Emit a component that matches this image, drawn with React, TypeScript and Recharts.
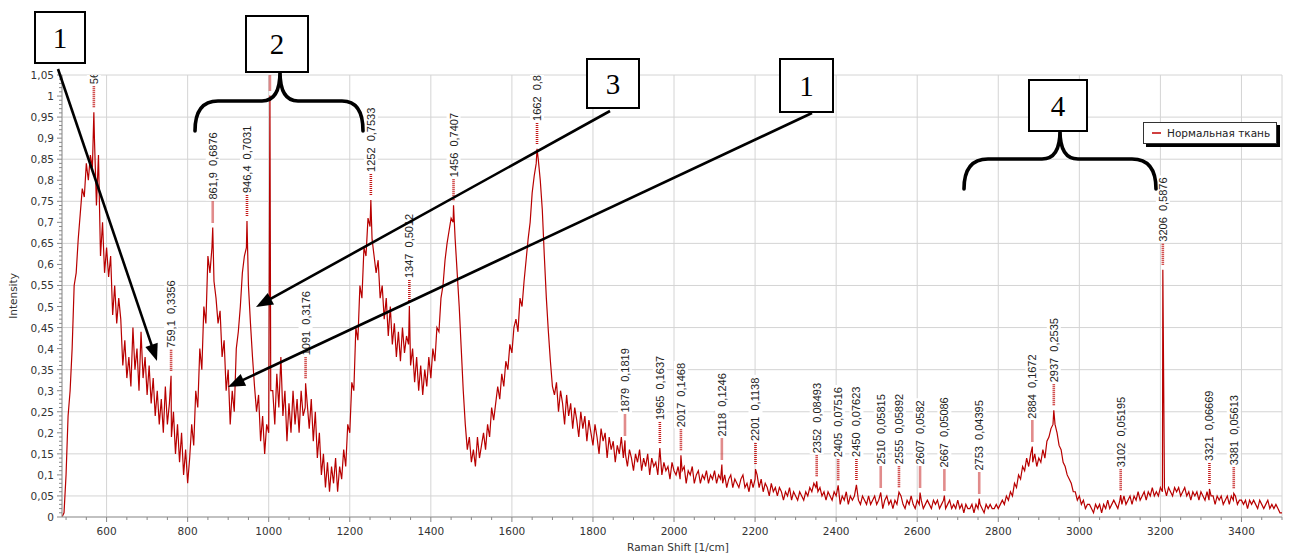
import React from 'react';
import { ComposedChart, Line, Scatter, XAxis, YAxis, CartesianGrid } from 'recharts';

// Raman spectrum, sampled every 5 1/cm from 490 to 3500
const SHIFT_START = 490;
const SHIFT_STEP = 5;
const intensity: number[] = [
  0.00, 0.01, 0.10, 0.24, 0.30, 0.40, 0.55, 0.58, 0.66, 0.72, 0.78, 0.76, 0.84, 0.80, 0.86, 0.83, 0.90, 0.74, 0.86, 0.62,
  0.70, 0.58, 0.64, 0.57, 0.62, 0.48, 0.55, 0.46, 0.52, 0.47, 0.36, 0.42, 0.33, 0.38, 0.31, 0.45, 0.35, 0.40, 0.30, 0.44,
  0.33, 0.38, 0.29, 0.36, 0.27, 0.33, 0.24, 0.30, 0.22, 0.28, 0.20, 0.31, 0.22, 0.27, 0.19, 0.25, 0.15, 0.22, 0.13, 0.20,
  0.10, 0.16, 0.08, 0.14, 0.22, 0.17, 0.30, 0.26, 0.40, 0.35, 0.50, 0.46, 0.62, 0.58, 0.64, 0.56, 0.52, 0.46, 0.49, 0.38,
  0.42, 0.30, 0.35, 0.22, 0.30, 0.25, 0.40, 0.44, 0.50, 0.58, 0.62, 0.64, 0.55, 0.46, 0.38, 0.31, 0.25, 0.29, 0.18, 0.24,
  0.15, 0.22, 0.20, 0.30, 0.30, 0.22, 0.34, 0.26, 0.38, 0.24, 0.30, 0.18, 0.27, 0.20, 0.30, 0.22, 0.28, 0.20, 0.30, 0.24,
  0.26, 0.27, 0.21, 0.28, 0.18, 0.25, 0.14, 0.20, 0.10, 0.15, 0.07, 0.13, 0.06, 0.12, 0.08, 0.14, 0.06, 0.12, 0.09, 0.16,
  0.12, 0.22, 0.20, 0.32, 0.30, 0.45, 0.42, 0.55, 0.52, 0.64, 0.62, 0.71, 0.69, 0.66, 0.62, 0.58, 0.61, 0.52, 0.55, 0.47,
  0.52, 0.43, 0.50, 0.41, 0.46, 0.38, 0.44, 0.37, 0.45, 0.39, 0.43, 0.41, 0.36, 0.40, 0.32, 0.38, 0.30, 0.36, 0.29, 0.35,
  0.31, 0.38, 0.33, 0.40, 0.37, 0.45, 0.44, 0.52, 0.55, 0.61, 0.65, 0.68, 0.71, 0.70, 0.66, 0.58, 0.50, 0.40, 0.30, 0.22,
  0.16, 0.19, 0.13, 0.16, 0.12, 0.19, 0.14, 0.17, 0.20, 0.16, 0.22, 0.19, 0.26, 0.23, 0.27, 0.31, 0.28, 0.34, 0.31, 0.37,
  0.35, 0.41, 0.39, 0.45, 0.47, 0.44, 0.52, 0.50, 0.56, 0.61, 0.66, 0.70, 0.77, 0.81, 0.84, 0.85, 0.80, 0.73, 0.62, 0.52,
  0.44, 0.37, 0.31, 0.29, 0.32, 0.25, 0.30, 0.27, 0.22, 0.29, 0.24, 0.27, 0.21, 0.26, 0.23, 0.19, 0.25, 0.21, 0.24, 0.18,
  0.23, 0.20, 0.17, 0.22, 0.19, 0.15, 0.21, 0.18, 0.20, 0.14, 0.19, 0.16, 0.18, 0.13, 0.17, 0.15, 0.19, 0.14, 0.15, 0.12,
  0.16, 0.14, 0.11, 0.15, 0.13, 0.16, 0.11, 0.14, 0.12, 0.15, 0.10, 0.14, 0.12, 0.13, 0.10, 0.12, 0.10, 0.13, 0.11, 0.12,
  0.09, 0.13, 0.11, 0.10, 0.12, 0.09, 0.11, 0.12, 0.08, 0.11, 0.10, 0.12, 0.08, 0.10, 0.11, 0.08, 0.10, 0.09, 0.11, 0.08,
  0.10, 0.09, 0.11, 0.08, 0.10, 0.09, 0.08, 0.10, 0.07, 0.09, 0.10, 0.07, 0.09, 0.08, 0.07, 0.09, 0.10, 0.07, 0.08, 0.06,
  0.09, 0.07, 0.09, 0.10, 0.07, 0.09, 0.06, 0.08, 0.07, 0.05, 0.08, 0.06, 0.07, 0.05, 0.07, 0.06, 0.04, 0.06, 0.05, 0.07,
  0.04, 0.06, 0.05, 0.04, 0.06, 0.05, 0.04, 0.06, 0.05, 0.07, 0.06, 0.08, 0.07, 0.06, 0.07, 0.05, 0.06, 0.04, 0.06, 0.05,
  0.04, 0.06, 0.05, 0.05, 0.03, 0.05, 0.04, 0.06, 0.03, 0.05, 0.04, 0.05, 0.06, 0.04, 0.03, 0.05, 0.04, 0.03, 0.05, 0.03,
  0.04, 0.05, 0.03, 0.04, 0.04, 0.02, 0.04, 0.05, 0.03, 0.04, 0.02, 0.04, 0.03, 0.04, 0.05, 0.03, 0.02, 0.04, 0.03, 0.05,
  0.03, 0.02, 0.04, 0.03, 0.04, 0.02, 0.03, 0.04, 0.03, 0.02, 0.04, 0.03, 0.04, 0.02, 0.03, 0.04, 0.02, 0.03, 0.04, 0.02,
  0.03, 0.02, 0.04, 0.02, 0.03, 0.01, 0.03, 0.02, 0.02, 0.03, 0.01, 0.03, 0.02, 0.03, 0.02, 0.01, 0.03, 0.02, 0.03, 0.02,
  0.02, 0.03, 0.02, 0.03, 0.04, 0.03, 0.05, 0.04, 0.06, 0.05, 0.08, 0.07, 0.10, 0.09, 0.12, 0.11, 0.14, 0.12, 0.15, 0.13,
  0.15, 0.12, 0.14, 0.13, 0.16, 0.14, 0.18, 0.19, 0.21, 0.22, 0.22, 0.20, 0.17, 0.16, 0.13, 0.12, 0.10, 0.09, 0.08, 0.06,
  0.06, 0.04, 0.05, 0.03, 0.04, 0.02, 0.03, 0.03, 0.02, 0.01, 0.03, 0.02, 0.03, 0.01, 0.03, 0.02, 0.04, 0.02, 0.03, 0.04,
  0.03, 0.02, 0.04, 0.03, 0.05, 0.03, 0.04, 0.05, 0.03, 0.05, 0.04, 0.06, 0.04, 0.05, 0.06, 0.04, 0.06, 0.05, 0.07, 0.05,
  0.06, 0.05, 0.07, 0.06, 0.07, 0.05, 0.07, 0.06, 0.05, 0.07, 0.06, 0.07, 0.05, 0.06, 0.07, 0.05, 0.06, 0.04, 0.06, 0.05,
  0.06, 0.04, 0.06, 0.05, 0.04, 0.06, 0.04, 0.05, 0.05, 0.03, 0.05, 0.04, 0.05, 0.03, 0.04, 0.05, 0.03, 0.05, 0.04, 0.05,
  0.03, 0.04, 0.04, 0.03, 0.04, 0.02, 0.04, 0.03, 0.04, 0.03, 0.02, 0.04, 0.03, 0.02, 0.03, 0.04, 0.02, 0.03, 0.02, 0.03,
  0.02, 0.01, 0.01,
];

// Marked peaks
const peakShifts = [568.6, 759.1, 861.9, 946.4, 1003, 1091, 1252, 1347, 1456, 1662, 1879, 1965, 2017, 2118, 2201, 2352, 2405, 2450, 2510, 2555, 2607, 2667, 2753, 2884, 2937, 3102, 3206, 3321, 3381];
const peakValues = [0.9617, 0.3356, 0.6876, 0.7031, 1.0012, 0.3176, 0.7533, 0.5012, 0.7407, 0.8745, 0.1819, 0.1637, 0.1468, 0.1246, 0.1138, 0.08493, 0.07516, 0.07623, 0.05815, 0.05892, 0.0582, 0.05086, 0.04395, 0.1672, 0.2535, 0.05195, 0.5876, 0.06669, 0.05613];
const peakLabels = ['568,6  0,9617', '759,1  0,3356', '861,9  0,6876', '946,4  0,7031', '1003  1,0012', '1091  0,3176', '1252  0,7533', '1347  0,5012', '1456  0,7407', '1662  0,8745', '1879  0,1819', '1965  0,1637', '2017  0,1468', '2118  0,1246', '2201  0,1138', '2352  0,08493', '2405  0,07516', '2450  0,07623', '2510  0,05815', '2555  0,05892', '2607  0,0582', '2667  0,05086', '2753  0,04395', '2884  0,1672', '2937  0,2535', '3102  0,05195', '3206  0,5876', '3321  0,06669', '3381  0,05613'];

const xMajorTicks = [600, 800, 1000, 1200, 1400, 1600, 1800, 2000, 2200, 2400, 2600, 2800, 3000, 3200, 3400];
const yMajorTicks = [0, 0.05, 0.1, 0.15, 0.2, 0.25, 0.3, 0.35, 0.4, 0.45, 0.5, 0.55, 0.6, 0.65, 0.7, 0.75, 0.8, 0.85, 0.9, 0.95, 1, 1.05];
const yTickLabels = ['0', '0,05', '0,1', '0,15', '0,2', '0,25', '0,3', '0,35', '0,4', '0,45', '0,5', '0,55', '0,6', '0,65', '0,7', '0,75', '0,8', '0,85', '0,9', '0,95', '1', '1,05'];

const SERIES_NAME = 'Нормальная ткань';
const X_TITLE = 'Raman Shift [1/cm]';
const Y_TITLE = 'Intensity';

// layout
const W = 1293;
const H = 554;
const PLOT_LEFT = 62;
const PLOT_TOP = 75;
const PLOT_RIGHT = 1282;
const PLOT_BOTTOM = 517;
const RED = '#b80000';
const AXIS_FONT = '"DejaVu Sans", Verdana, sans-serif';

const spectrum: { x: number; y: number }[] = [];
intensity.forEach((v, i) => {
  const x = SHIFT_START + i * SHIFT_STEP;
  if (!peakShifts.some((p) => Math.abs(p - x) < 0.6)) spectrum.push({ x, y: v });
});
peakShifts.forEach((p, i) => spectrum.push({ x: p, y: peakValues[i] }));
spectrum.sort((a, b) => a.x - b.x);

const peakData = peakShifts.map((p, i) => ({ x: p, y: peakValues[i], label: peakLabels[i] }));

const xMinorTicks: number[] = [];
for (let v = 500; v <= 3500; v += 50) xMinorTicks.push(v);
const yMinorTicks: number[] = [];
for (let k = 0; k <= 105; k++) yMinorTicks.push(k / 100);

const charW = (c: string) => (c === ',' || c === ' ' ? 3.06 : 6.12);
const labelLen = (s: string) => s.split('').reduce((a, c) => a + charW(c), 0);

const PeakMark = (props: any) => {
  const { cx, cy, payload } = props;
  if (cx == null || cy == null) return <g />;
  const label: string = payload.label;
  const len = labelLen(label);
  const id = `pclip-${String(payload.x).replace('.', '_')}`;
  const ty = cy - 28;
  return (
    <g>
      <defs>
        <clipPath id={id}>
          <rect x={PLOT_LEFT} y={PLOT_TOP} width={PLOT_RIGHT - PLOT_LEFT} height={PLOT_BOTTOM - PLOT_TOP} />
        </clipPath>
      </defs>
      <g clipPath={`url(#${id})`}>
        <line x1={cx} x2={cx} y1={cy - 5} y2={cy - 26} stroke="#c41818" strokeWidth={2.6} strokeDasharray="1 1" />
        <rect x={cx - 7} y={ty - len - 2} width={14} height={len + 3} fill="#fff" />
        <text
          x={cx}
          y={ty}
          transform={`rotate(-90 ${cx} ${ty})`}
          dominantBaseline="central"
          textAnchor="start"
          fontFamily='"Liberation Sans", Arial, sans-serif'
          fontSize={11}
          fill="#222"
          style={{ whiteSpace: 'pre' }}
        >
          {label}
        </text>
      </g>
    </g>
  );
};

const XTick = (props: any) => {
  const { x, y, payload } = props;
  const v = payload.value;
  const major = xMajorTicks.includes(v);
  return (
    <g>
      <line x1={x} x2={x} y1={y} y2={y + (major ? 5 : 3)} stroke="#888" />
      {major && (
        <text x={x} y={y + 18} textAnchor="middle" fontFamily={AXIS_FONT} fontSize={10.5} fill="#333">
          {v}
        </text>
      )}
    </g>
  );
};

const YTick = (props: any) => {
  const { x, y, payload } = props;
  const v = payload.value;
  const k = Math.round(v * 100);
  const major = k % 5 === 0;
  const idx = yMajorTicks.findIndex((t) => Math.round(t * 100) === k);
  return (
    <g>
      <line x1={x - (major ? 5 : 3)} x2={x} y1={y} y2={y} stroke="#888" />
      {major && idx >= 0 && (
        <text x={x - 8} y={y} dy={4} textAnchor="end" fontFamily={AXIS_FONT} fontSize={10.5} fill="#333">
          {yTickLabels[idx]}
        </text>
      )}
    </g>
  );
};

function arrow(x1: number, y1: number, x2: number, y2: number, key: string) {
  const dx = x2 - x1;
  const dy = y2 - y1;
  const L = Math.sqrt(dx * dx + dy * dy);
  const ux = dx / L;
  const uy = dy / L;
  const hl = 17;
  const hw = 6.5;
  const bx = x2 - ux * hl;
  const by = y2 - uy * hl;
  const pts = `${x2},${y2} ${bx - uy * hw},${by + ux * hw} ${bx + uy * hw},${by - ux * hw}`;
  return (
    <g key={key}>
      <line x1={x1} y1={y1} x2={bx + ux * 2} y2={by + uy * 2} stroke="#000" strokeWidth={2.6} />
      <polygon points={pts} fill="#000" />
    </g>
  );
}

function numBox(x: number, y: number, w: number, h: number, t: string) {
  return (
    <g key={`box-${t}-${x}`}>
      <rect x={x} y={y} width={w} height={h} fill="#fff" stroke="#000" strokeWidth={2} />
      <text
        x={x + w / 2}
        y={y + h / 2 + 10}
        textAnchor="middle"
        fontFamily='"Liberation Serif", "Times New Roman", serif'
        fontSize={29}
        fill="#000"
      >
        {t}
      </text>
    </g>
  );
}

export default function App() {
  return (
    <div style={{ position: 'absolute', left: 0, top: 0, width: W, height: H, background: '#fff', overflow: 'hidden' }}>
      <ComposedChart
        width={W}
        height={H}
        data={spectrum}
        margin={{ top: PLOT_TOP, right: W - PLOT_RIGHT, left: 0, bottom: 0 }}
      >
        <CartesianGrid xAxisId="grid" yAxisId="grid" stroke="#d4d4d4" strokeWidth={1} />
        <XAxis
          dataKey="x"
          type="number"
          domain={[490, 3500]}
          allowDataOverflow
          ticks={xMinorTicks}
          interval={0}
          tick={<XTick />}
          tickLine={false}
          tickSize={0}
          tickMargin={0}
          axisLine={{ stroke: '#999' }}
          height={H - PLOT_BOTTOM}
        />
        <XAxis xAxisId="grid" dataKey="x" type="number" domain={[490, 3500]} allowDataOverflow ticks={xMajorTicks} hide />
        <YAxis
          type="number"
          domain={[0, 1.05]}
          allowDataOverflow
          ticks={yMinorTicks}
          interval={0}
          tick={<YTick />}
          tickLine={false}
          tickSize={0}
          tickMargin={0}
          axisLine={{ stroke: '#999' }}
          width={PLOT_LEFT}
        />
        <YAxis yAxisId="grid" type="number" domain={[0, 1.05]} allowDataOverflow ticks={yMajorTicks} hide />
        <Line
          dataKey="y"
          type="linear"
          stroke={RED}
          strokeWidth={1.2}
          dot={false}
          activeDot={false}
          isAnimationActive={false}
          name={SERIES_NAME}
        />
        <Scatter data={peakData} dataKey="y" shape={PeakMark} isAnimationActive={false} legendType="none" />
      </ComposedChart>

      <svg
        width={W}
        height={H}
        style={{ position: 'absolute', left: 0, top: 0, pointerEvents: 'none' }}
      >
        <text
          x={17}
          y={296}
          transform="rotate(-90 17 296)"
          textAnchor="middle"
          fontFamily={AXIS_FONT}
          fontSize={10.5}
          fill="#333"
        >
          {Y_TITLE}
        </text>
        <text x={678} y={551} textAnchor="middle" fontFamily={AXIS_FONT} fontSize={10.5} fill="#333">
          {X_TITLE}
        </text>

        {/* braces */}
        <path
          d="M195,131 Q195,101 218,101 L262,101 Q280,101 280,72 Q280,101 298,101 L342,101 Q363,101 363,131"
          fill="none"
          stroke="#000"
          strokeWidth={3.6}
          strokeLinecap="round"
        />
        <path
          d="M964,189 Q964,159 988,159 L1042,159 Q1060,159 1060,131 Q1060,159 1078,159 L1132,159 Q1156,159 1156,189"
          fill="none"
          stroke="#000"
          strokeWidth={3.6}
          strokeLinecap="round"
        />

        {/* arrows */}
        {arrow(58, 69, 157, 361, 'a1')}
        {arrow(610, 111, 256, 307, 'a3')}
        {arrow(812, 113, 228, 387, 'a1b')}

        {/* number boxes */}
        {numBox(35, 12, 50, 51, '1')}
        {numBox(246, 16, 62, 56, '2')}
        {numBox(587, 59, 52, 49, '3')}
        {numBox(780, 59, 53, 53, '1')}
        {numBox(1029, 80, 58, 51, '4')}
      </svg>

      <div
        style={{
          position: 'absolute',
          left: 1143,
          top: 122,
          width: 134,
          height: 22,
          background: '#fff',
          border: '1px solid #333',
          boxShadow: '3px 3px 0 #000',
          display: 'flex',
          alignItems: 'center',
          fontFamily: AXIS_FONT,
          fontSize: 10.5,
          color: '#222',
          boxSizing: 'border-box',
        }}
      >
        <span style={{ display: 'inline-block', width: 9, height: 1.5, background: '#d04040', marginLeft: 8, marginRight: 6 }} />
        <span>{SERIES_NAME}</span>
      </div>
    </div>
  );
}
